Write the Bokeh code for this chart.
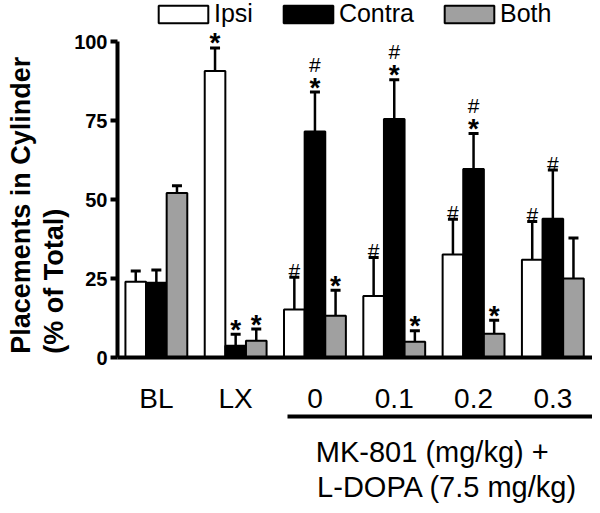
from bokeh.plotting import figure
from bokeh.models import (ColumnDataSource, Range1d, FixedTicker, LinearAxis, Whisker,
                          TeeHead, Title)
from bokeh.core.properties import value
from bokeh.embed import file_html
from bokeh.resources import INLINE

# ---------------- data ----------------
categories = ["BL", "LX", "0", "0.1", "0.2", "0.3"]
series = ["Ipsi", "Contra", "Both"]

ipsi_mean = [24.0, 90.8, 15.2, 19.5, 32.6, 31.0]
ipsi_sem = [3.4, 7.3, 10.2, 12.2, 11.2, 12.1]
contra_mean = [23.7, 3.7, 71.6, 75.6, 59.7, 44.0]
contra_sem = [4.0, 3.7, 12.5, 12.4, 11.3, 15.4]
both_mean = [52.1, 5.3, 13.2, 5.0, 7.5, 25.0]
both_sem = [2.3, 3.7, 8.1, 3.5, 4.3, 12.9]

# significance marks: * and #
ipsi_star = [False, True, False, False, False, False]
ipsi_hash = [False, False, True, True, True, True]
contra_star = [False, True, True, True, True, False]
contra_hash = [False, False, True, True, True, True]
both_star = [False, True, True, True, True, False]
both_hash = [False, False, False, False, False, False]

y_ticks = [0, 25, 50, 75, 100]
y_label_lines = ["Placements in Cylinder", "(% of Total)"]
treat_lines = ["MK-801  (mg/kg) +", "L-DOPA (7.5 mg/kg)"]

# ---------------- styling ----------------
FONT = "Liberation Sans"
fills = ["white", "black", "#a0a0a0"]
offsets = [-0.26, 0.0, 0.26]
bar_w = 0.26

p = figure(width=592, height=505, output_backend="svg", toolbar_location=None,
           x_range=Range1d(-0.49, 5.5), y_range=Range1d(0, 113.125),
           x_axis_location=None, y_axis_location=None,
           min_border_left=110, min_border_right=0, min_border_top=0,
           min_border_bottom=136)
p.outline_line_color = None
p.xgrid.visible = False
p.ygrid.visible = False
p.background_fill_color = "white"
p.border_fill_color = "white"

means = [ipsi_mean, contra_mean, both_mean]
sems = [ipsi_sem, contra_sem, both_sem]
stars = [ipsi_star, contra_star, both_star]
hashes = [ipsi_hash, contra_hash, both_hash]

star_x, star_y, hash_x, hash_y, hash_dy = [], [], [], [], []
for k, name in enumerate(series):
    xs = [i + offsets[k] for i in range(len(categories))]
    src = ColumnDataSource(dict(x=xs, top=means[k],
                                upper=[m + s for m, s in zip(means[k], sems[k])],
                                lower=[m - s for m, s in zip(means[k], sems[k])]))
    p.vbar(x="x", top="top", width=bar_w, bottom=0, source=src,
           fill_color=fills[k], line_color="black", line_width=2,
           legend_label=name)
    wk = Whisker(source=src, base="x", upper="upper", lower="lower",
                 line_color="black", line_width=2.5,
                 upper_head=TeeHead(size=10, line_width=3, line_color="black"),
                 lower_head=TeeHead(size=10, line_width=3, line_color="black"))
    p.add_layout(wk)
    for i in range(len(categories)):
        up = means[k][i] + sems[k][i]
        if stars[k][i]:
            star_x.append(xs[i]); star_y.append(up)
        if hashes[k][i]:
            hash_x.append(xs[i]); hash_y.append(up)
            hash_dy.append(-28 if stars[k][i] else -7)

star_src = ColumnDataSource(dict(x=star_x, y=star_y, t=["*"] * len(star_x)))
p.text(x="x", y="y", text="t", source=star_src, text_font=value(FONT),
       text_font_style="bold", text_font_size="28px", text_align="center",
       text_baseline="alphabetic", y_offset=-5, text_color="black")
hash_src = ColumnDataSource(dict(x=hash_x, y=hash_y, t=["#"] * len(hash_x), dy=hash_dy))
p.text(x="x", y="y", text="t", source=hash_src, text_font=value(FONT),
       text_font_size="21px", text_align="center", text_baseline="alphabetic",
       y_offset="dy", text_color="black")

# ---------------- axes ----------------
yax = LinearAxis(ticker=FixedTicker(ticks=y_ticks), bounds=(0, 100))
yax.axis_line_width = 4
yax.major_tick_line_width = 4
yax.major_tick_out = 7
yax.major_tick_in = 0
yax.minor_tick_line_color = None
yax.major_label_text_font = FONT
yax.major_label_text_font_style = "bold"
yax.major_label_text_font_size = "20px"
yax.major_label_text_color = "black"
yax.major_label_standoff = 3
p.add_layout(yax, "left")

# y title: centred on the 0-100 span (the frame is taller), so pad the line ends
NB = "\u00a0"
ytext = "\n".join([y_label_lines[0] + NB * 7, y_label_lines[1] + NB * 6])
ytitle = Title(text=ytext, align="center", standoff=6,
               text_font=FONT, text_font_style="bold", text_font_size="27px",
               text_line_height=1.1, text_color="black")
p.add_layout(ytitle, "left")


def plain_axis(ticks, labels, size, standoff, line=True):
    ax = LinearAxis(ticker=FixedTicker(ticks=ticks))
    ax.major_label_overrides = dict(zip(ticks, labels))
    ax.axis_line_width = 4
    if not line:
        ax.axis_line_color = None
    ax.major_tick_line_color = None
    ax.major_tick_out = 0
    ax.major_tick_in = 0
    ax.minor_tick_line_color = None
    ax.major_label_text_font = FONT
    ax.major_label_text_font_size = size
    ax.major_label_text_color = "black"
    ax.major_label_standoff = standoff
    return ax


xax = plain_axis(list(range(len(categories))), categories, "28px", 25)
p.add_layout(xax, "below")

# treatment bracket line under the drug groups, with the treatment text below it
bax = plain_axis([3.53], [treat_lines[0]], "29px", 19)
bax.bounds = (1.66, 5.5)
p.add_layout(bax, "below")
cax = plain_axis([3.67], [treat_lines[1]], "29px", 0, line=False)
p.add_layout(cax, "below")

# ---------------- legend ----------------
lg = p.legend[0]
lg.orientation = "horizontal"
lg.location = (35, 329)
lg.glyph_width = 62
lg.glyph_height = 22
lg.label_standoff = 0
lg.spacing = 24
lg.padding = 0
lg.margin = 0
lg.border_line_color = None
lg.background_fill_alpha = 0
lg.label_text_font = FONT
lg.label_text_font_size = "25px"
lg.label_text_color = "black"

open("out.html", "w").write(file_html(p, INLINE))
